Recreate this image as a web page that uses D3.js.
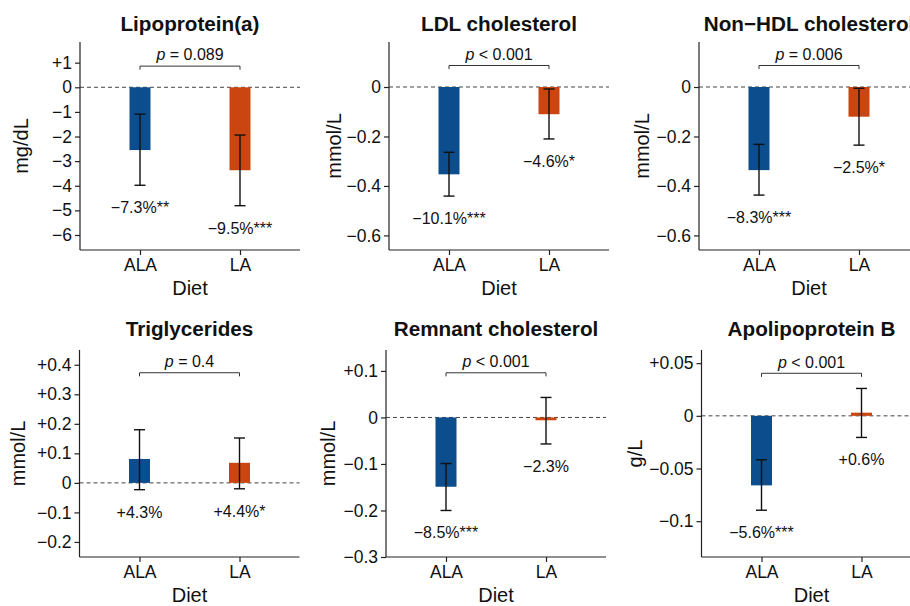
<!DOCTYPE html>
<html>
<head>
<meta charset="utf-8">
<script src="https://cdn.jsdelivr.net/npm/d3@7"></script>
<style>
  body { margin: 0; background: #fff; }
  svg text { font-family: "Liberation Sans", Arial, sans-serif; fill: #111; }
</style>
</head>
<body>
<div id="chart"></div>
<script>
// カテゴリ
const diets = ["ALA", "LA"];
const panel_titles = ["Lipoprotein(a)", "LDL cholesterol", "Non\u2212HDL cholesterol",
                      "Triglycerides", "Remnant cholesterol", "Apolipoprotein B"];
const unit_labels = ["mg/dL", "mmol/L", "mmol/L", "mmol/L", "mmol/L", "g/L"];

// 変化量 (ALA, LA)
const mean_change = [[-2.55, -3.37], [-0.353, -0.110], [-0.336, -0.120],
                     [0.081, 0.068], [-0.149, -0.006], [-0.066, 0.003]];
const ci_low  = [[-3.98, -4.81], [-0.441, -0.210], [-0.437, -0.235],
                 [-0.023, -0.020], [-0.200, -0.057], [-0.0896, -0.0205]];
const ci_high = [[-1.09, -1.94], [-0.264, -0.008], [-0.232, -0.005],
                 [0.180, 0.152], [-0.099, 0.043], [-0.0417, 0.026]];
const pct_labels = [["\u22127.3%**", "\u22129.5%***"], ["\u221210.1%***", "\u22124.6%*"],
                    ["\u22128.3%***", "\u22122.5%*"], ["+4.3%", "+4.4%*"],
                    ["\u22128.5%***", "\u22122.3%"], ["\u22125.6%***", "+0.6%"]];
const p_texts = ["= 0.089", "< 0.001", "= 0.006", "= 0.4", "< 0.001", "< 0.001"];
const bracket_y = [0.86, 0.087, 0.087, 0.373, 0.096, 0.0404];

// 目盛
const y_ticks = [[1, 0, -1, -2, -3, -4, -5, -6], [0, -0.2, -0.4, -0.6], [0, -0.2, -0.4, -0.6],
                 [0.4, 0.3, 0.2, 0.1, 0, -0.1, -0.2], [0.1, 0, -0.1, -0.2, -0.3],
                 [0.05, 0, -0.05, -0.1]];
const y_domains = [[-6.61, 1.84], [-0.659, 0.182], [-0.659, 0.182],
                   [-0.251, 0.45], [-0.3, 0.145], [-0.134, 0.0625]];

const colors = ["#0b4d8d", "#cb4510"];

// パネル配置
const panel_x = [80, 389, 699, 79.5, 386, 701.5];
const ylab_x = [21, 333.5, 641.7, 17.5, 328, 634.5];
const row_top = [42, 350];
const row_bottom = [250, 557];
const title_y = [31, 336];
const panel_w = 220;

const svg = d3.select("#chart").append("svg")
    .attr("width", 910)
    .attr("height", 606)
;

function fmt_tick(v){
    if( v > 0 ) return "+" + v;
    if( v < 0 ) return "\u2212" + Math.abs(v);
    return "0";
}

function draw_panel(i){
    const row = i < 3 ? 0 : 1;
    const x0 = panel_x[i];
    const top = row_top[row];
    const bottom = row_bottom[row];

    const x = d3.scaleLinear().domain([0.4, 2.6]).range([x0, x0 + panel_w]);
    const y = d3.scaleLinear().domain(y_domains[i]).range([bottom, top]);

    const g = svg.append("g").attr("class", "panel");

    const rows = diets.map(function(d, j){
        return {diet: d, pos: j + 1, v: mean_change[i][j], lo: ci_low[i][j],
                hi: ci_high[i][j], lab: pct_labels[i][j], col: colors[j]};
    });

    // 0 の破線
    g.append("line")
        .attr("x1", x0).attr("x2", x0 + panel_w)
        .attr("y1", y(0)).attr("y2", y(0))
        .attr("stroke", "#444")
        .attr("stroke-width", 1)
        .attr("stroke-dasharray", "4,3")
    ;

    // 棒
    const bw = 0.21;
    g.selectAll("rect.bar")
        .data(rows)
        .enter()
        .append("rect")
        .attr("class", "bar")
        .attr("x", function(d){ return x(d.pos - bw / 2); })
        .attr("width", x(bw) - x(0))
        .attr("y", function(d){ return y(Math.max(0, d.v)); })
        .attr("height", function(d){ return Math.abs(y(d.v) - y(0)); })
        .attr("fill", function(d){ return d.col; })
    ;

    // エラーバー
    const cw = 0.055;
    const eb = g.selectAll("g.err").data(rows).enter().append("g").attr("class", "err")
        .attr("stroke", "#111").attr("stroke-width", 1.4);
    eb.append("line")
        .attr("x1", function(d){ return x(d.pos); })
        .attr("x2", function(d){ return x(d.pos); })
        .attr("y1", function(d){ return y(d.lo); })
        .attr("y2", function(d){ return y(d.hi); })
    ;
    ["lo", "hi"].forEach(function(k){
        eb.append("line")
            .attr("x1", function(d){ return x(d.pos - cw); })
            .attr("x2", function(d){ return x(d.pos + cw); })
            .attr("y1", function(d){ return y(d[k]); })
            .attr("y2", function(d){ return y(d[k]); })
        ;
    });

    // パーセント表示
    g.selectAll("text.pct")
        .data(rows)
        .enter()
        .append("text")
        .attr("class", "pct")
        .attr("x", function(d){ return x(d.pos); })
        .attr("y", function(d){ return y(Math.min(d.lo, d.v)) + 28; })
        .attr("text-anchor", "middle")
        .attr("font-size", 16)
        .text(function(d){ return d.lab; })
    ;

    // p値のブラケット
    const by = y(bracket_y[i]);
    g.append("path")
        .attr("d", "M" + x(1) + "," + (by + 3.6) + "V" + by + "H" + x(2) + "V" + (by + 3.6))
        .attr("fill", "none")
        .attr("stroke", "#333")
        .attr("stroke-width", 1)
    ;
    const pt = g.append("text")
        .attr("x", x(1.5))
        .attr("y", by - 5.7)
        .attr("text-anchor", "middle")
        .attr("font-size", 16)
    ;
    pt.append("tspan").attr("font-style", "italic").text("p");
    pt.append("tspan").text(" " + p_texts[i]);

    // 軸
    const ya = g.append("g")
        .attr("transform", "translate(" + x0 + ",0)")
        .call(d3.axisLeft(y).tickValues(y_ticks[i]).tickFormat(fmt_tick).tickSizeOuter(0).tickSize(5).tickPadding(3))
    ;
    const xa = g.append("g")
        .attr("transform", "translate(0," + bottom + ")")
        .call(d3.axisBottom(x).tickValues([1, 2]).tickFormat(function(d){ return diets[d - 1]; })
              .tickSizeOuter(0).tickSize(5).tickPadding(4))
    ;
    [ya, xa].forEach(function(a){
        a.select(".domain").attr("stroke", "#222").attr("stroke-width", 1.2);
        a.selectAll(".tick line").attr("stroke", "#222").attr("stroke-width", 1.2);
        a.selectAll(".tick text").attr("font-size", 17.5).attr("fill", "#111")
            .attr("font-family", "\"Liberation Sans\", Arial, sans-serif");
    });
    // 軸線を上端まで
    ya.select(".domain").attr("d", "M0," + bottom + "V" + top);
    xa.select(".domain").attr("d", "M" + x0 + ",0H" + (x0 + panel_w));

    // タイトル、軸ラベル
    g.append("text")
        .attr("x", x0 + panel_w / 2)
        .attr("y", title_y[row])
        .attr("text-anchor", "middle")
        .attr("font-size", 20.7)
        .attr("font-weight", "bold")
        .text(panel_titles[i])
    ;
    g.append("text")
        .attr("x", x0 + panel_w / 2)
        .attr("y", bottom + 45)
        .attr("text-anchor", "middle")
        .attr("font-size", 20)
        .text("Diet")
    ;
    g.append("text")
        .attr("transform", "translate(" + ylab_x[i] + "," + (top + bottom) / 2 + ") rotate(-90)")
        .attr("dy", "0.35em")
        .attr("text-anchor", "middle")
        .attr("font-size", 20)
        .text(unit_labels[i])
    ;
}

for( let i = 0; i < 6; i++ ){
    draw_panel(i);
}
</script>
</body>
</html>
